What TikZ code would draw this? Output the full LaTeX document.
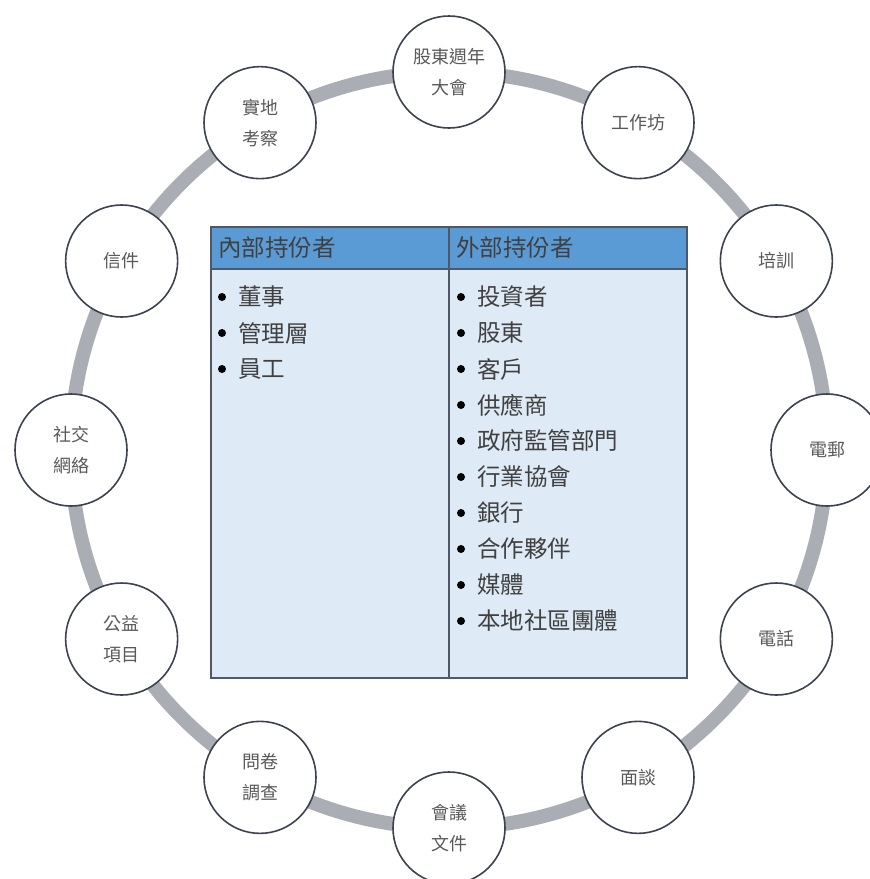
\documentclass[tikz,border=0pt]{standalone}
\usepackage{fontspec}
\newfontfamily\cjk{Noto Sans CJK TC}
\definecolor{ringgray}{HTML}{ABADB4}
\definecolor{circedge}{HTML}{3C4250}
\definecolor{circtext}{HTML}{595959}
\definecolor{headblue}{HTML}{5B9BD5}
\definecolor{bodyblue}{HTML}{DEEAF6}
\definecolor{tabedge}{HTML}{4F5868}
\definecolor{tabtext}{HTML}{404040}
\tikzset{
  chan/.style={circle, draw=circedge, line width=1.6pt, fill=white, minimum size=112pt, inner sep=0pt,
    font=\cjk\fontsize{18}{31}\selectfont, text=circtext, align=center},
  head/.style={anchor=west, font=\cjk\fontsize{23.5}{26}\selectfont, text=tabtext, inner sep=0pt},
  item/.style={anchor=west, font=\cjk\fontsize{23.5}{26}\selectfont, text=tabtext, inner sep=0pt},
  bul/.style={circle, fill=black, minimum size=8pt, inner sep=0pt}
}
\begin{document}
\begin{tikzpicture}[x=1pt,y=-1pt]
\useasboundingbox (0,0) rectangle (870,879);
\coordinate (c) at (449,450);
\draw[ringgray, line width=14pt] (c) circle (378);
% table
\fill[bodyblue] (211,269) rectangle (687,678);
\fill[headblue] (211,227) rectangle (687,269);
\draw[tabedge, line width=1.2pt] (211,227) rectangle (687,678);
\draw[tabedge, line width=1.2pt] (211,269) -- (687,269);
\draw[tabedge, line width=1.2pt] (449,227) -- (449,678);
\node[head] (h1) at (218,248) {內部持份者};
\node[head] (h2) at (456,248) {外部持份者};
\foreach \t [count=\i] in {董事,管理層,員工}{
  \node[bul] (lb\i) at (222,{297+36*(\i-1)}) {};
  \node[item] (l\i) at (238,{297+36*(\i-1)}) {\t};
}
\foreach \t [count=\i] in {投資者,股東,客戶,供應商,政府監管部門,行業協會,銀行,合作夥伴,媒體,本地社區團體}{
  \node[bul] (rb\i) at (461,{297+36*(\i-1)}) {};
  \node[item] (r\i) at (477,{297+36*(\i-1)}) {\t};
}
% channel circles
\foreach \a/\t [count=\i] in {90/股東週年\\大會, 60/工作坊, 30/培訓, 0/電郵, -30/電話, -60/面談, -90/會議\\文件, -120/問卷\\調查, -150/公益\\項目, 180/社交\\網絡, 150/信件, 120/實地\\考察}{
  \node[chan] (n\i) at ({449+378*cos(\a)},{450-378*sin(\a)}) {\t};
}
\end{tikzpicture}
\end{document}
